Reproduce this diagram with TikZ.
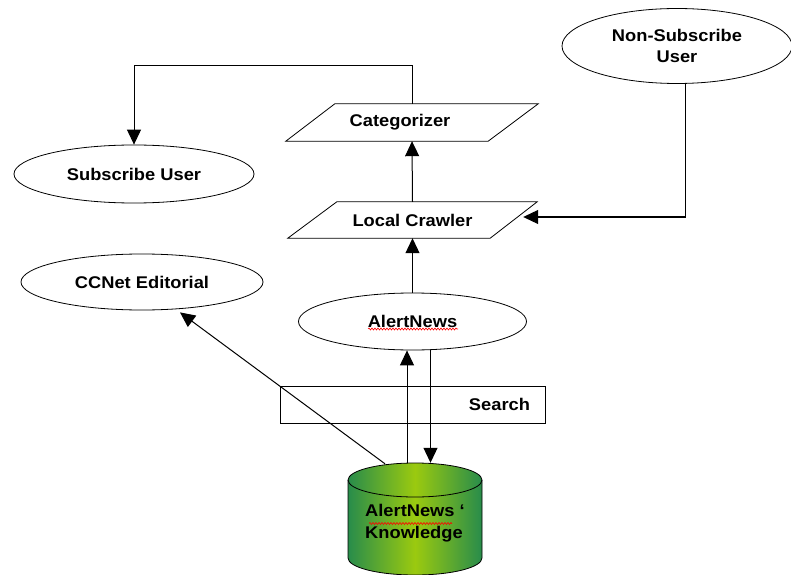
\documentclass[tikz,border=0pt]{standalone}
\usepackage{fontspec}
\setmainfont{Liberation Sans}[FakeStretch=1.08]
\usetikzlibrary{shapes.geometric,arrows.meta,calc,decorations.pathmorphing}
\definecolor{dbedge}{RGB}{40,140,75}
\definecolor{dbmid}{RGB}{155,202,15}
\begin{document}
\begin{tikzpicture}[x=1bp,y=-1bp,
  txt/.style={font=\bfseries\fontsize{17}{21.5}\selectfont},
  oval/.style={ellipse, draw, line width=0.8bp, inner sep=0pt, txt},
  box/.style={rectangle, inner sep=0pt, txt},
  arr/.style={line width=1bp, -{Triangle[length=15bp,width=14bp]}},
  shapeline/.style={line width=0.8bp},
  dbshade/.style={left color=dbedge, right color=dbedge, middle color=dbmid},
  squiggle/.style={red, line width=0.6bp, decorate, decoration={snake, amplitude=1bp, segment length=3bp}}]
\useasboundingbox (0,0) rectangle (791,575);

% ovals
\node[oval, minimum width=240bp, minimum height=58bp] (sub) at (134,174) {Subscribe User};
\node[oval, minimum width=242bp, minimum height=56bp] (ccnet) at (142,282) {CCNet Editorial};
\node[oval, minimum width=230bp, minimum height=75bp, align=center] (nonsub) at (677,46) {Non-Subscribe\\User};
\node[oval, minimum width=228bp, minimum height=57bp] (alert) at (412.5,321.5) {AlertNews};
\draw[squiggle] (368,329) -- (458,329);

% parallelograms
\node[box, minimum width=252bp, minimum height=37bp,
      label={[txt,xshift=-12bp]center:Categorizer}] (cat) at (412,122.5) {};
\draw[shapeline] (cat.south west) -- ([xshift=-50bp]cat.south east) -- (cat.north east) -- ([xshift=49bp]cat.north west) -- cycle;
\node[box, minimum width=249bp, minimum height=36bp] (loc) at (412.5,220) {Local Crawler};
\draw[shapeline] (loc.south west) -- ([xshift=-47bp]loc.south east) -- (loc.north east) -- ([xshift=49bp]loc.north west) -- cycle;

% search box
\node[draw, shapeline, rectangle, minimum width=265bp, minimum height=37bp, text width=235bp,
      inner xsep=15bp, inner ysep=0pt, align=right, txt] (search) at (412.5,404.5) {Search};

% database cylinder
\shade[dbshade] (348,480) -- (348,558) arc[start angle=180, end angle=360, x radius=67bp, y radius=17bp] -- (482,480) -- cycle;
\shade[dbshade] (415,480) ellipse[x radius=67bp, y radius=17bp];
\draw[shapeline] (415,480) ellipse[x radius=67bp, y radius=17bp];
\draw[shapeline] (348,480) -- (348,558) arc[start angle=180, end angle=360, x radius=67bp, y radius=17bp] -- (482,480);
\node[box, minimum width=134bp, minimum height=112bp,
      label={[txt,align=left,yshift=-4bp]center:AlertNews ‘\\Knowledge}] (db) at (415,519) {};
\draw[squiggle] (369,523.5) -- (452,523.5);

% connectors
\draw[arr] (cat.north) -- ++(0,-38) -| (sub.north);
\draw[arr] (loc.north) -- (cat.south);
\draw[arr] (alert.north) -- (loc.south);
\draw[arr] ([xshift=8bp]nonsub.south) |- ([xshift=-14bp,yshift=3bp]loc.east);
\coordinate (up1) at ([xshift=-8bp]db.north);
\draw[arr] (up1) -- (up1 |- alert.south);
\coordinate (dn1) at ([xshift=18bp]alert.south);
\draw[arr] (dn1) -- (dn1 |- db.north);
\draw[arr] ([xshift=-30bp,yshift=-1bp]db.north) -- ([xshift=38bp,yshift=-2bp]ccnet.south);
\end{tikzpicture}
\end{document}
